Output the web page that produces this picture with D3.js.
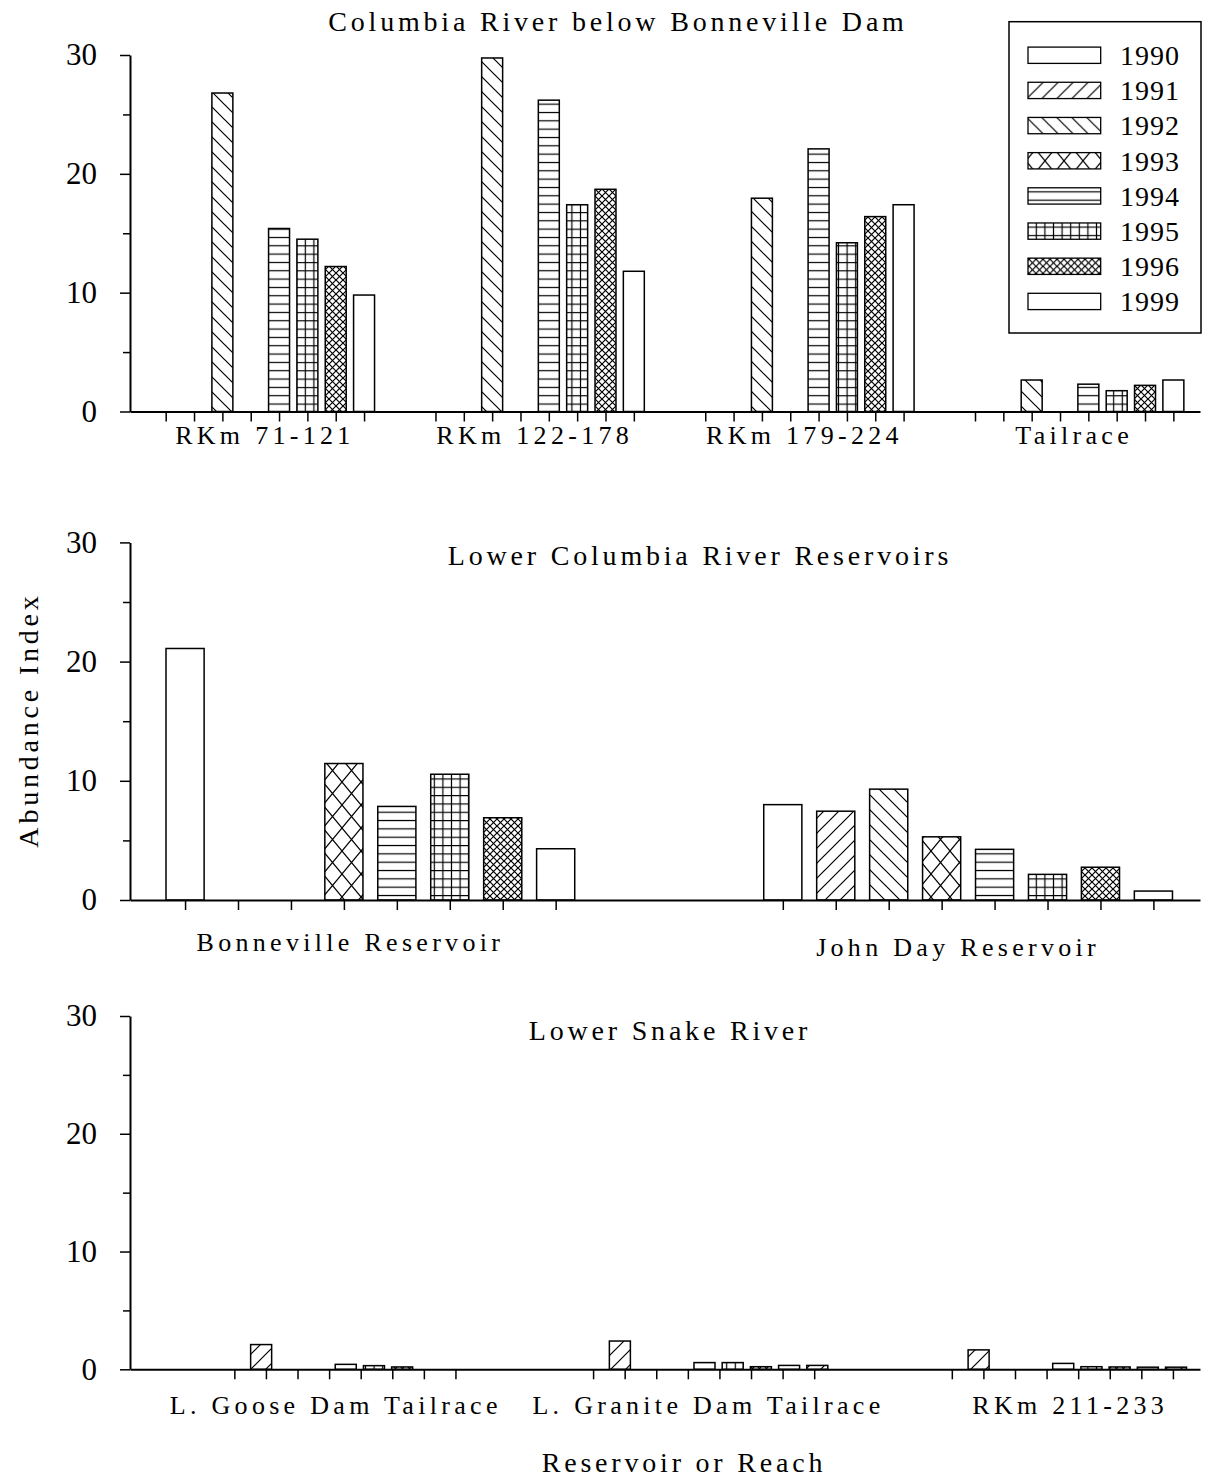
<!DOCTYPE html>
<html>
<head>
<meta charset="utf-8">
<script src="https://cdn.jsdelivr.net/npm/d3@7"></script>
<style>
  body { margin: 0; background: #fff; }
  svg { display: block; }
</style>
</head>
<body>
<div id="chart"></div>
<script>
// ---------------- DATA ----------------
const years = ["1990", "1991", "1992", "1993", "1994", "1995", "1996", "1999"];
const yMajorTicks = [0, 10, 20, 30];
const yMinorTicks = [5, 15, 25];
const yTickLabels = ["0", "10", "20", "30"];

const yAxisTitle = "Abundance Index";
const xAxisTitle = "Reservoir or Reach";

// Panel 1
const topTitle = "Columbia River below Bonneville Dam";
const topCategories = ["RKm 71-121", "RKm 122-178", "RKm 179-224", "Tailrace"];
const top1990 = [null, null, null, null];
const top1991 = [null, null, null, null];
const top1992 = [26.8, 29.75, 17.95, 2.65];
const top1993 = [null, null, null, null];
const top1994 = [15.4, 26.2, 22.1, 2.3];
const top1995 = [14.5, 17.4, 14.2, 1.75];
const top1996 = [12.2, 18.7, 16.4, 2.2];
const top1999 = [9.8, 11.8, 17.4, 2.65];

// Panel 2
const midTitle = "Lower Columbia River Reservoirs";
const midCategories = ["Bonneville Reservoir", "John Day Reservoir"];
const mid1990 = [21.1, 8.0];
const mid1991 = [null, 7.45];
const mid1992 = [null, 9.3];
const mid1993 = [11.45, 5.3];
const mid1994 = [7.85, 4.25];
const mid1995 = [10.55, 2.15];
const mid1996 = [6.9, 2.75];
const mid1999 = [4.3, 0.75];

// Panel 3 (nine bar slots per group)
const botTitle = "Lower Snake River";
const botCategories = ["L. Goose Dam Tailrace", "L. Granite Dam Tailrace", "RKm 211-233"];
const botSeries = ["1990", "1991", "1992", "1993", "1994", "1995", "1996", "1999", "extra"];
const bot1990 = [null, null, null];
const bot1991 = [2.1, 2.4, 1.65];
const bot1992 = [null, null, null];
const bot1993 = [null, null, null];
const bot1994 = [0.42, 0.57, 0.5];
const bot1995 = [0.31, 0.57, 0.22];
const bot1996 = [0.2, 0.22, 0.2];
const bot1999 = [null, 0.33, 0.18];
const botExtra = [null, 0.33, 0.18];

// ---------------- STYLE / LAYOUT ----------------
const FONT = '"Liberation Serif","Times New Roman",Times,serif';
const patternOf = {
  "1990": "none", "1991": "fwd", "1992": "back", "1993": "cross",
  "1994": "horiz", "1995": "grid", "1996": "dense", "1999": "none", "extra": "fwd"
};

const svg = d3.select("#chart").append("svg")
  .attr("width", 1207).attr("height", 1479)
  .style("font-family", FONT);

const defs = svg.append("defs");
function makePattern(id, w, h, d) {
  const p = defs.append("pattern").attr("id", id)
    .attr("patternUnits", "userSpaceOnUse")
    .attr("width", w).attr("height", h);
  p.append("rect").attr("width", w).attr("height", h).attr("fill", "#fff");
  p.append("path").attr("d", d).attr("stroke", "#000")
    .attr("stroke-width", 1.2).attr("fill", "none");
}
makePattern("fwd", 15, 15, "M-3,3 L3,-3 M0,15 L15,0 M12,18 L18,12");
makePattern("back", 15, 15, "M-3,12 L3,18 M0,0 L15,15 M12,-3 L18,3");
makePattern("cross", 19, 23, "M0,0 L19,23 M19,0 L0,23");
makePattern("horiz", 10, 8.33, "M0,4.2 L10,4.2");
makePattern("grid", 8.6, 8.33, "M0,4.2 L8.6,4.2 M4.3,0 L4.3,8.33");
makePattern("dense", 7, 7, "M0,0 L7,7 M7,0 L0,7");
const fillOf = k => patternOf[k] === "none" ? "#fff" : `url(#${patternOf[k]})`;

const panels = [
  {
    title: topTitle, titleX: 618, titleY: 31,
    categories: topCategories, series: years,
    values: [top1990, top1991, top1992, top1993, top1994, top1995, top1996, top1999],
    y0: 411.5, y30: 55,
    xDomain: [-1.26, 36.5], groupStep: 9.52, barFrac: 0.74,
    ticks: "bars", labelY: 444, labelDx: [0, 0, 0, 0], labelDy: [0, 0, 0, 0]
  },
  {
    title: midTitle, titleX: 700, titleY: 565,
    categories: midCategories, series: years,
    values: [mid1990, mid1991, mid1992, mid1993, mid1994, mid1995, mid1996, mid1999],
    y0: 900, y30: 542.4,
    xDomain: [-1.04, 19.17], groupStep: 11.29, barFrac: 0.72,
    ticks: "bars", labelY: 951, labelDx: [-20, -10], labelDy: [0, 5]
  },
  {
    title: botTitle, titleX: 670, titleY: 1040,
    categories: botCategories, series: botSeries,
    values: [bot1990, bot1991, bot1992, bot1993, bot1994, bot1995, bot1996, bot1999, botExtra],
    y0: 1369.3, y30: 1016,
    xDomain: [-3.65, 34.29], groupStep: 12.72, barFrac: 0.745,
    ticks: "even", tickCount: 8, tickStart: 0.05, tickStep: 1.12,
    labelY: 1414, labelDx: [-10, 4, 7], labelDy: [0, 0, 0]
  }
];

const X0 = 130, X1 = 1200;

panels.forEach(p => {
  const g = svg.append("g");
  const y = d3.scaleLinear().domain([0, 30]).range([p.y0, p.y30]);
  const x = d3.scaleLinear().domain(p.xDomain).range([X0, X1]);
  const slotPx = x(1) - x(0);
  const bw = slotPx * p.barFrac;

  // bars
  const flat = [];
  p.series.forEach((key, si) => {
    p.values[si].forEach((v, gi) => {
      if (v != null) flat.push({ key, si, gi, v });
    });
  });
  g.append("g").selectAll("rect").data(flat).join("rect")
    .attr("x", d => x(d.gi * p.groupStep + d.si) - bw / 2)
    .attr("y", d => y(d.v))
    .attr("width", bw)
    .attr("height", d => y(0) - y(d.v))
    .attr("fill", d => fillOf(d.key))
    .attr("stroke", "#000")
    .attr("stroke-width", 1.5);

  // x tick positions
  let xt = [];
  p.categories.forEach((c, gi) => {
    if (p.ticks === "bars") {
      for (let i = 0; i < p.series.length; i++) xt.push(gi * p.groupStep + i);
    } else {
      for (let j = 0; j < p.tickCount; j++) xt.push(gi * p.groupStep + p.tickStart + j * p.tickStep);
    }
  });
  const xAxis = d3.axisBottom(x).tickValues(xt).tickSize(10).tickSizeOuter(0).tickFormat("");
  const xg = g.append("g").attr("transform", `translate(0,${p.y0})`).call(xAxis);
  xg.select(".domain").attr("stroke-width", 2);
  xg.selectAll(".tick line").attr("stroke-width", 1.5);

  // y axis
  const yMinor = d3.axisLeft(y).tickValues(yMinorTicks).tickSize(7).tickSizeOuter(0).tickFormat("");
  const ymg = g.append("g").attr("transform", `translate(${X0},0)`).call(yMinor);
  ymg.select(".domain").remove();
  ymg.selectAll(".tick line").attr("stroke-width", 1.5);
  const yAxis = d3.axisLeft(y).tickValues(yMajorTicks).tickSize(10).tickSizeOuter(0)
    .tickPadding(23).tickFormat((d, i) => yTickLabels[i]);
  const yg = g.append("g").attr("transform", `translate(${X0},0)`).call(yAxis);
  yg.select(".domain").attr("stroke-width", 2);
  yg.selectAll(".tick line").attr("stroke-width", 1.5);
  yg.selectAll(".tick text").attr("font-family", FONT).attr("font-size", 31).attr("fill", "#000");

  // category labels
  const centerSlot = (p.series.length - 1) / 2;
  g.append("g").selectAll("text").data(p.categories).join("text")
    .attr("x", (d, i) => x(i * p.groupStep + centerSlot) + p.labelDx[i])
    .attr("y", (d, i) => p.labelY + p.labelDy[i])
    .attr("text-anchor", "middle")
    .attr("font-size", 26)
    .attr("letter-spacing", 4.3)
    .text(d => d);

  // panel title
  g.append("text").attr("x", p.titleX).attr("y", p.titleY)
    .attr("text-anchor", "middle").attr("font-size", 28).attr("letter-spacing", 3.8)
    .text(p.title);
});

// Axis titles
svg.append("text")
  .attr("transform", "translate(38,720) rotate(-90)")
  .attr("text-anchor", "middle").attr("font-size", 28).attr("letter-spacing", 3.8)
  .text(yAxisTitle);
svg.append("text")
  .attr("x", 684).attr("y", 1472)
  .attr("text-anchor", "middle").attr("font-size", 28).attr("letter-spacing", 3.8)
  .text(xAxisTitle);

// Legend
const leg = svg.append("g");
leg.append("rect").attr("x", 1009).attr("y", 21.7).attr("width", 192).attr("height", 311.3)
  .attr("fill", "#fff").attr("stroke", "#000").attr("stroke-width", 1.5);
const legRowY = d3.scaleLinear().domain([0, years.length - 1]).range([55.3, 301.5]);
const rows = leg.selectAll("g.row").data(years).join("g").attr("class", "row")
  .attr("transform", (d, i) => `translate(0,${legRowY(i)})`);
rows.append("rect").attr("x", 1028).attr("y", -8.2).attr("width", 72.7).attr("height", 16.3)
  .attr("fill", d => fillOf(d)).attr("stroke", "#000").attr("stroke-width", 1.3);
rows.append("text").attr("x", 1120).attr("y", 9.8).attr("font-size", 28)
  .attr("letter-spacing", 1).text(d => d);
</script>
</body>
</html>
